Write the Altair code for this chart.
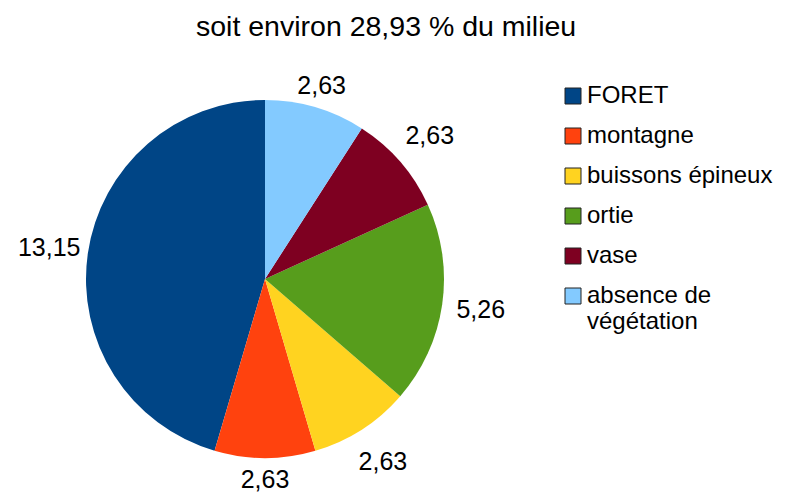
import altair as alt
import pandas as pd

categories = ["FORET", "montagne", "buissons épineux", "ortie", "vase", "absence de végétation"]
values = [13.15, 2.63, 2.63, 5.26, 2.63, 2.63]
labels = ["13,15", "2,63", "2,63", "5,26", "2,63", "2,63"]
colors = ["#004586", "#ff420e", "#ffd320", "#579d1c", "#7e0021", "#83caff"]
# drawing order clockwise from 12 o'clock (reverse of legend order)
draw_order = [6, 5, 4, 3, 2, 1]
# labels sitting above / below the pie are placed closer to it
near_labels = ["absence de végétation", "montagne"]

df = pd.DataFrame({
    "cat": categories,
    "val": values,
    "lab": labels,
    "ord": draw_order,
})

FONT = "Liberation Sans"
CX, CY = 257, 271

base = alt.Chart(df).encode(
    theta=alt.Theta("val:Q", stack=True),
    order=alt.Order("ord:Q"),
)

pie = base.mark_arc(outerRadius=179).encode(
    x=alt.value(CX),
    y=alt.value(CY),
    color=alt.Color(
        "cat:N",
        sort=categories,
        scale=alt.Scale(domain=categories, range=colors),
        legend=alt.Legend(
            title=None,
            orient="none",
            legendX=553,
            legendY=76,
            labelFont=FONT,
            labelFontSize=24,
            labelColor="#000000",
            labelLimit=300,
            labelExpr="datum.label == 'absence de végétation' ? ['absence de', 'végétation'] : datum.label",
            symbolType="square",
            symbolSize=256,
            symbolStrokeColor="#222222",
            symbolStrokeWidth=1,
            symbolOpacity=1,
            rowPadding=16,
            labelOffset=2,
        ),
    ),
)

near_test = "indexof(" + str(near_labels).replace('"', "'") + ", datum.cat) >= 0"

labels_side = base.mark_text(radius=218, font=FONT, fontSize=25, color="#000000",
                             align="center", baseline="middle").encode(
    x=alt.value(CX),
    y=alt.value(CY),
    text=alt.condition(near_test, alt.value(""), "lab:N"),
)

labels_near = base.mark_text(radius=201, font=FONT, fontSize=25, color="#000000",
                             align="center", baseline="middle").encode(
    x=alt.value(CX),
    y=alt.value(CY),
    text=alt.condition(near_test, "lab:N", alt.value("")),
)

chart = alt.layer(pie, labels_side, labels_near).properties(
    width=776,
    height=485,
    padding=0,
    autosize=alt.AutoSizeParams(type="none"),
    title=alt.TitleParams(
        "soit environ 28,93 % du milieu",
        font=FONT,
        fontSize=28.5,
        fontWeight="normal",
        color="#000000",
        anchor="start",
        dx=188,
        offset=-33,
    ),
).configure_view(stroke=None)

chart.save("out.html", embed_options={"renderer": "svg", "actions": False})
